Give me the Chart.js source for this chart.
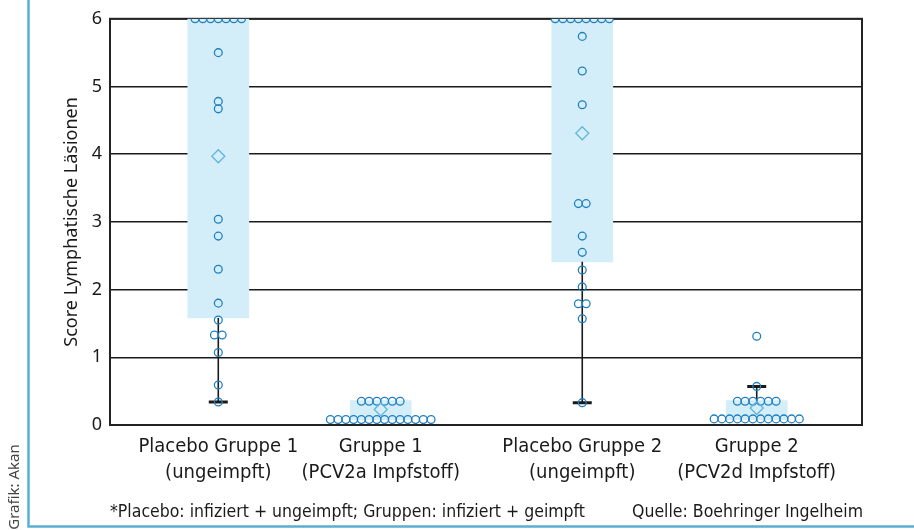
<!DOCTYPE html>
<html>
<head>
<meta charset="utf-8">
<script src="https://cdn.jsdelivr.net/npm/chart.js@4/dist/chart.umd.min.js"></script>
<style>
  html, body { margin: 0; padding: 0; background: #fff; }
  #wrap { width: 914px; height: 530px; position: relative; }
</style>
</head>
<body>
<div id="wrap"><canvas id="graf"></canvas></div>
<script>
// Kategorien und Positionen auf der x-Achse
const groups = [
  ['Placebo Gruppe 1', '(ungeimpft)'],
  ['Gruppe 1', '(PCV2a Impfstoff)'],
  ['Placebo Gruppe 2', '(ungeimpft)'],
  ['Gruppe 2', '(PCV2d Impfstoff)']
]
const groupPos = [14.4, 36.0, 62.8, 86.0]

// Einzelwerte je Tier
const placebo1 = [6, 6, 6, 6, 6, 6, 6, 5.5, 4.78, 4.67, 3.04, 2.79, 2.3, 1.8, 1.55, 1.33, 1.33, 1.07, 0.59, 0.34]
const gruppe1 = [0.08, 0.08, 0.08, 0.08, 0.08, 0.08, 0.08, 0.08, 0.08, 0.08, 0.08, 0.08, 0.08, 0.08, 0.35, 0.35, 0.35, 0.35, 0.35, 0.35]
const placebo2 = [6, 6, 6, 6, 6, 6, 6, 6, 5.74, 5.23, 4.73, 3.27, 3.27, 2.79, 2.55, 2.29, 2.04, 1.79, 1.79, 1.57, 0.33]
const gruppe2 = [0.09, 0.09, 0.09, 0.09, 0.09, 0.09, 0.09, 0.09, 0.09, 0.09, 0.09, 0.09, 0.35, 0.35, 0.35, 0.35, 0.35, 0.35, 0.57, 1.31]
const values = [placebo1, gruppe1, placebo2, gruppe2]

// Box (Quartile), Mittelwert, Whisker
const boxLow = [1.58, 0.08, 2.41, 0.08]
const boxHigh = [6, 0.36, 6, 0.36]
const means = [3.97, 0.23, 4.31, 0.25]
const whiskerFrom = [1.58, null, 2.41, 0.36]
const whiskerTo = [0.34, null, 0.33, 0.57]

const yTicks = [0, 1, 2, 3, 4, 5, 6]

const condensed = "'DejaVu Sans Condensed', 'Liberation Sans Narrow', sans-serif"
const ink = '#1a1a1a'
const dotBlue = '#1f7fc0'
const spread = 1.03

// gleiche Werte nebeneinander legen
function swarm(vals, center){
  let counts = {}
  vals.forEach(v => { counts[v] = (counts[v] || 0) + 1 })
  let seen = {}
  return vals.map(v => {
    let n = counts[v]
    let i = seen[v] || 0
    seen[v] = i + 1
    return { x: center + (i - (n - 1) / 2) * spread, y: v }
  })
}

let dots = []
for(let g=0;g<values.length;g++){
  dots = dots.concat(swarm(values[g], groupPos[g]))
}

let whiskerSets = []
let caps = []
for(let g=0;g<groupPos.length;g++){
  if(whiskerFrom[g]==null) continue
  whiskerSets.push({
    type: 'line',
    data: [{x: groupPos[g], y: whiskerFrom[g]}, {x: groupPos[g], y: whiskerTo[g]}],
    borderColor: ink,
    borderWidth: 1.6,
    pointRadius: 0,
    order: 4
  })
  caps.push({x: groupPos[g], y: whiskerTo[g]})
}

const frame = {
  id: 'frame',
  beforeDatasetsDraw(chart){
    const {ctx, chartArea: a} = chart
    ctx.save()
    ctx.strokeStyle = '#222'
    ctx.lineWidth = 2
    ctx.strokeRect(a.left, a.top, a.right - a.left, a.bottom - a.top)
    ctx.restore()
  },
  afterDraw(chart){
    const ctx = chart.ctx
    ctx.save()
    ctx.strokeStyle = '#5aaed2'
    ctx.lineWidth = 2.5
    ctx.beginPath()
    ctx.moveTo(28.5, 0)
    ctx.lineTo(28.5, 526.5)
    ctx.lineTo(914, 526.5)
    ctx.stroke()

    ctx.fillStyle = ink
    ctx.font = '17.5px ' + condensed
    ctx.textBaseline = 'alphabetic'
    ctx.textAlign = 'left'
    ctx.fillText('*Placebo: infiziert + ungeimpft; Gruppen: infiziert + geimpft', 110, 517)
    ctx.textAlign = 'right'
    ctx.fillText('Quelle: Boehringer Ingelheim', 863, 517)

    ctx.translate(19, 487)
    ctx.rotate(-Math.PI / 2)
    ctx.textAlign = 'center'
    ctx.fillStyle = '#444'
    ctx.font = '15px "Noto Sans", sans-serif'
    ctx.fillText('Grafik: Akan', 0, 0)
    ctx.restore()
  }
}

new Chart(document.getElementById('graf'), {
  type: 'bar',
  data: {
    datasets: [
      {
        type: 'bar',
        data: groupPos.map((x, i) => ({x: x, y: [boxLow[i], boxHigh[i]]})),
        backgroundColor: '#d3eef9',
        borderWidth: 0,
        barThickness: 61,
        order: 5
      },
      ...whiskerSets,
      {
        type: 'scatter',
        data: caps,
        pointStyle: 'line',
        radius: 9.5,
        borderWidth: 3,
        borderColor: ink,
        order: 3
      },
      {
        type: 'scatter',
        data: dots,
        pointStyle: 'circle',
        radius: 3.9,
        borderWidth: 1.3,
        borderColor: dotBlue,
        backgroundColor: 'rgba(255,255,255,0)',
        order: 2
      },
      {
        type: 'scatter',
        data: groupPos.map((x, i) => ({x: x, y: means[i]})),
        pointStyle: 'rectRot',
        radius: 6.5,
        borderWidth: 1.3,
        borderColor: '#62b4dc',
        backgroundColor: 'rgba(255,255,255,0)',
        order: 1
      }
    ]
  },
  options: {
    responsive: true,
    maintainAspectRatio: false,
    animation: false,
    layout: { padding: { left: 53, right: 52, top: 18, bottom: 35 } },
    plugins: { legend: {display: false}, tooltip: {enabled: false} },
    scales: {
      x: {
        type: 'linear',
        min: 0,
        max: 100,
        offset: false,
        afterBuildTicks: (scale) => { scale.ticks = groupPos.map(v => ({value: v})) },
        afterFit: (scale) => { scale.height = 70 },
        grid: { display: false },
        border: { display: true, color: '#222', width: 2 },
        ticks: {
          autoSkip: false,
          maxRotation: 0,
          padding: 1,
          color: ink,
          font: { family: condensed, size: 20, lineHeight: 1.3 },
          callback: (value, index) => groups[index]
        }
      },
      y: {
        min: 0,
        max: 6,
        afterFit: (scale) => { scale.width = 57 },
        afterBuildTicks: (scale) => { scale.ticks = yTicks.map(v => ({value: v})) },
        grid: { color: '#1a1a1a', lineWidth: 1.6, drawTicks: false },
        border: { display: true, color: '#222', width: 2 },
        ticks: {
          padding: 8,
          color: ink,
          font: { family: "'Noto Sans', sans-serif", size: 18 }
        },
        title: {
          display: true,
          text: 'Score Lymphatische Läsionen',
          color: ink,
          padding: { top: 8, bottom: 0 },
          font: { family: "'Noto Sans', sans-serif", size: 18 }
        }
      }
    }
  },
  plugins: [frame]
})
</script>
</body>
</html>
